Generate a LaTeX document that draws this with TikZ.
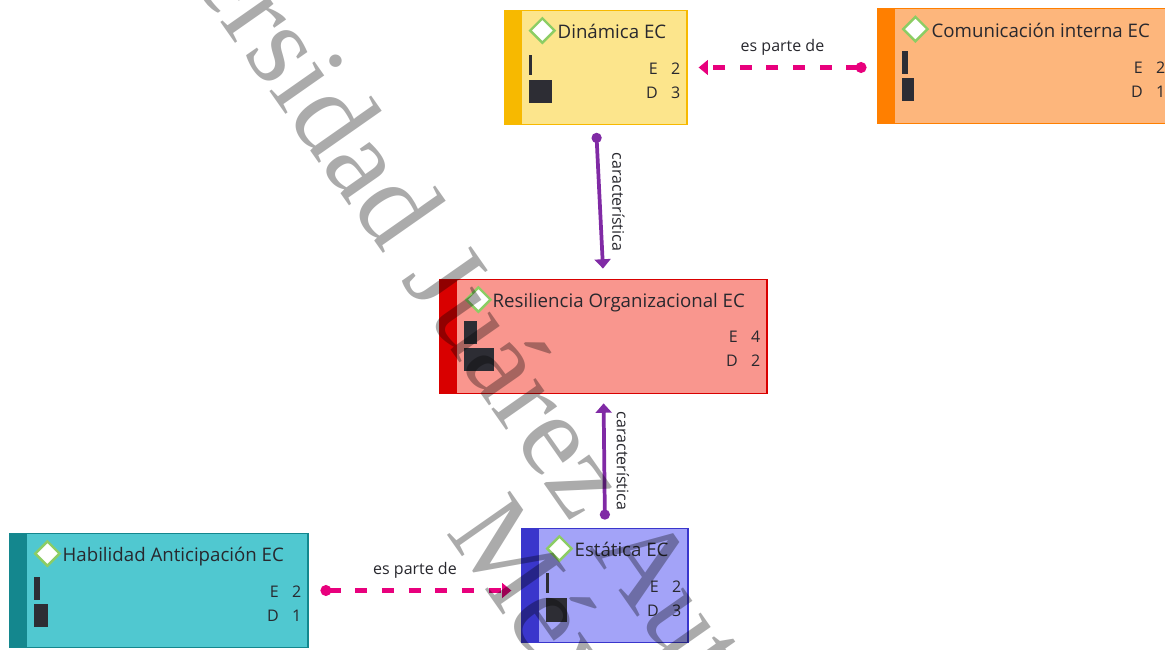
\documentclass[tikz,border=0pt]{standalone}
\usepackage{fontspec}
\setmainfont{Open Sans}
\newfontfamily\wmfont{Liberation Serif}
\usetikzlibrary{positioning, shapes.geometric, arrows.meta}

\definecolor{dinfill}{RGB}{252,229,140}
\definecolor{dinbar}{RGB}{247,185,0}
\definecolor{comfill}{RGB}{253,182,124}
\definecolor{combar}{RGB}{255,127,0}
\definecolor{resfill}{RGB}{249,150,142}
\definecolor{resbar}{RGB}{217,0,0}
\definecolor{habfill}{RGB}{80,200,208}
\definecolor{habbar}{RGB}{20,135,142}
\definecolor{estfill}{RGB}{163,163,248}
\definecolor{estbar}{RGB}{58,54,204}
\definecolor{inkgray}{RGB}{40,40,46}
\definecolor{markgray}{RGB}{45,45,52}
\definecolor{icongreen}{RGB}{140,205,100}
\definecolor{partpink}{RGB}{232,0,125}
\definecolor{charpurple}{RGB}{128,42,165}

\tikzstyle{ecbox} = [rectangle, inner sep=0pt, minimum height=86pt, line width=0.9pt]
\tikzset{bar/.style={path picture={\fill[#1] (path picture bounding box.south west) rectangle ([xshift=12.75pt]path picture bounding box.north west);}}}
\tikzstyle{icon} = [diamond, aspect=1, minimum size=19pt, inner sep=0pt, draw=icongreen, fill=white, line width=1.8pt]
\tikzstyle{title} = [anchor=base west, inner sep=0pt, text=inkgray, font=\fontsize{14}{16}\selectfont]
\tikzstyle{count} = [anchor=base east, inner sep=0pt, text=inkgray, font=\fontsize{12}{14}\selectfont]
\tikzstyle{gauge} = [fill=markgray]
\tikzstyle{partof} = [draw=partpink, line width=4.3pt, dash pattern=on 9pt off 11pt, {Circle[length=8pt]}-{Triangle[length=7pt,width=11pt]}]
\tikzstyle{charof} = [draw=charpurple, line width=2.8pt, {Circle[length=7.5pt]}-{Triangle[length=7pt,width=12pt]}]
\tikzstyle{linktext} = [inner sep=1pt, text=inkgray, font=\fontsize{12}{14}\selectfont]
\tikzstyle{watermark} = [inner sep=0pt, rotate=-55, text=black, opacity=0.33, font=\wmfont\fontsize{88}{90}\selectfont]

\begin{document}
\begin{tikzpicture}[x=0.75pt, y=-0.75pt]
\useasboundingbox (0,0) rectangle (1165,650);
\clip (0,0) rectangle (1165,650);
\fill[white] (0,0) rectangle (1165,650);

% codes
\node (din) [ecbox, fill=dinfill, draw=dinbar, bar=dinbar, minimum width=136.5pt] at (596,67.5) {};
\node (com) [ecbox, fill=comfill, draw=combar, bar=combar, minimum width=220.5pt] at (1025,66) {};
\node (res) [ecbox, fill=resfill, draw=resbar, bar=resbar, minimum width=245.25pt] at (603.5,336.5) {};
\node (hab) [ecbox, fill=habfill, draw=habbar, bar=habbar, minimum width=223.5pt] at (159,590.5) {};
\node (est) [ecbox, fill=estfill, draw=estbar, bar=estbar, minimum width=124.5pt] at (605,585.5) {};

\node (dinIcon) [icon] at ([shift={(38,21)}]din.north west) {};
\node (dinTitle) [title] at ([shift={(53,29)}]din.north west) {Dinámica EC};
\fill[gauge] ([shift={(25,45)}]din.north west) rectangle ++(3,20);
\fill[gauge] ([shift={(25,70)}]din.north west) rectangle ++(23,23);
\node (dinE) [count] at ([shift={(-7,65)}]din.north east) {E\hspace{10pt}2};
\node (dinD) [count] at ([shift={(-7,89)}]din.north east) {D\hspace{10pt}3};

\node (comIcon) [icon] at ([shift={(38,21)}]com.north west) {};
\node (comTitle) [title] at ([shift={(54,29)}]com.north west) {Comunicación interna EC};
\fill[gauge] ([shift={(25,43)}]com.north west) rectangle ++(6,23);
\fill[gauge] ([shift={(25,70)}]com.north west) rectangle ++(12,23);
\node (comE) [count] at ([shift={(-7,65)}]com.north east) {E\hspace{10pt}2};
\node (comD) [count] at ([shift={(-7,89)}]com.north east) {D\hspace{10pt}1};

\node (resIcon) [icon] at ([shift={(39,21)}]res.north west) {};
\node (resTitle) [title] at ([shift={(53,29)}]res.north west) {Resiliencia Organizacional EC};
\fill[gauge] ([shift={(25,42)}]res.north west) rectangle ++(13,23);
\fill[gauge] ([shift={(25,69)}]res.north west) rectangle ++(30,23);
\node (resE) [count] at ([shift={(-7,64)}]res.north east) {E\hspace{10pt}4};
\node (resD) [count] at ([shift={(-7,88)}]res.north east) {D\hspace{10pt}2};

\node (habIcon) [icon] at ([shift={(38,21)}]hab.north west) {};
\node (habTitle) [title] at ([shift={(53,29)}]hab.north west) {Habilidad Anticipación EC};
\fill[gauge] ([shift={(25,44)}]hab.north west) rectangle ++(6,23);
\fill[gauge] ([shift={(25,71)}]hab.north west) rectangle ++(14,23);
\node (habE) [count] at ([shift={(-7,65)}]hab.north east) {E\hspace{10pt}2};
\node (habD) [count] at ([shift={(-7,89)}]hab.north east) {D\hspace{10pt}1};

\node (estIcon) [icon] at ([shift={(38,21)}]est.north west) {};
\node (estTitle) [title] at ([shift={(53,29)}]est.north west) {Estática EC};
\fill[gauge] ([shift={(25,45)}]est.north west) rectangle ++(3,20);
\fill[gauge] ([shift={(25,70)}]est.north west) rectangle ++(21,24);
\node (estE) [count] at ([shift={(-7,65)}]est.north east) {E\hspace{10pt}2};
\node (estD) [count] at ([shift={(-7,89)}]est.north east) {D\hspace{10pt}3};

% links
\draw [partof, shorten <=8.25pt, shorten >=8.25pt] (com.west |- din.east) -- (din.east)
	node [linktext, midway, above=6pt] {es parte de};
\draw [partof, shorten <=9pt, shorten >=7.5pt] (hab.east) -- (hab.east -| est.west)
	node [linktext, midway, above=6pt] {es parte de};
\draw [charof, shorten <=5.6pt, shorten >=7.5pt] (din.south) -- (res.north)
	node [linktext, midway, rotate=-90, anchor=south, inner ysep=8pt] {característica};
\draw [charof, shorten <=6pt, shorten >=6.75pt] (est.north) -- (res.south)
	node [linktext, midway, rotate=-90, anchor=south, inner ysep=8pt] {característica};

% watermark
\node (wmLine) [watermark, anchor=base west] at (55,-215) {Universidad Juárez Autónoma de Tabasco};
\node (wmCountry) [watermark, anchor=base west] at (445,532) {México};

\end{tikzpicture}
\end{document}
